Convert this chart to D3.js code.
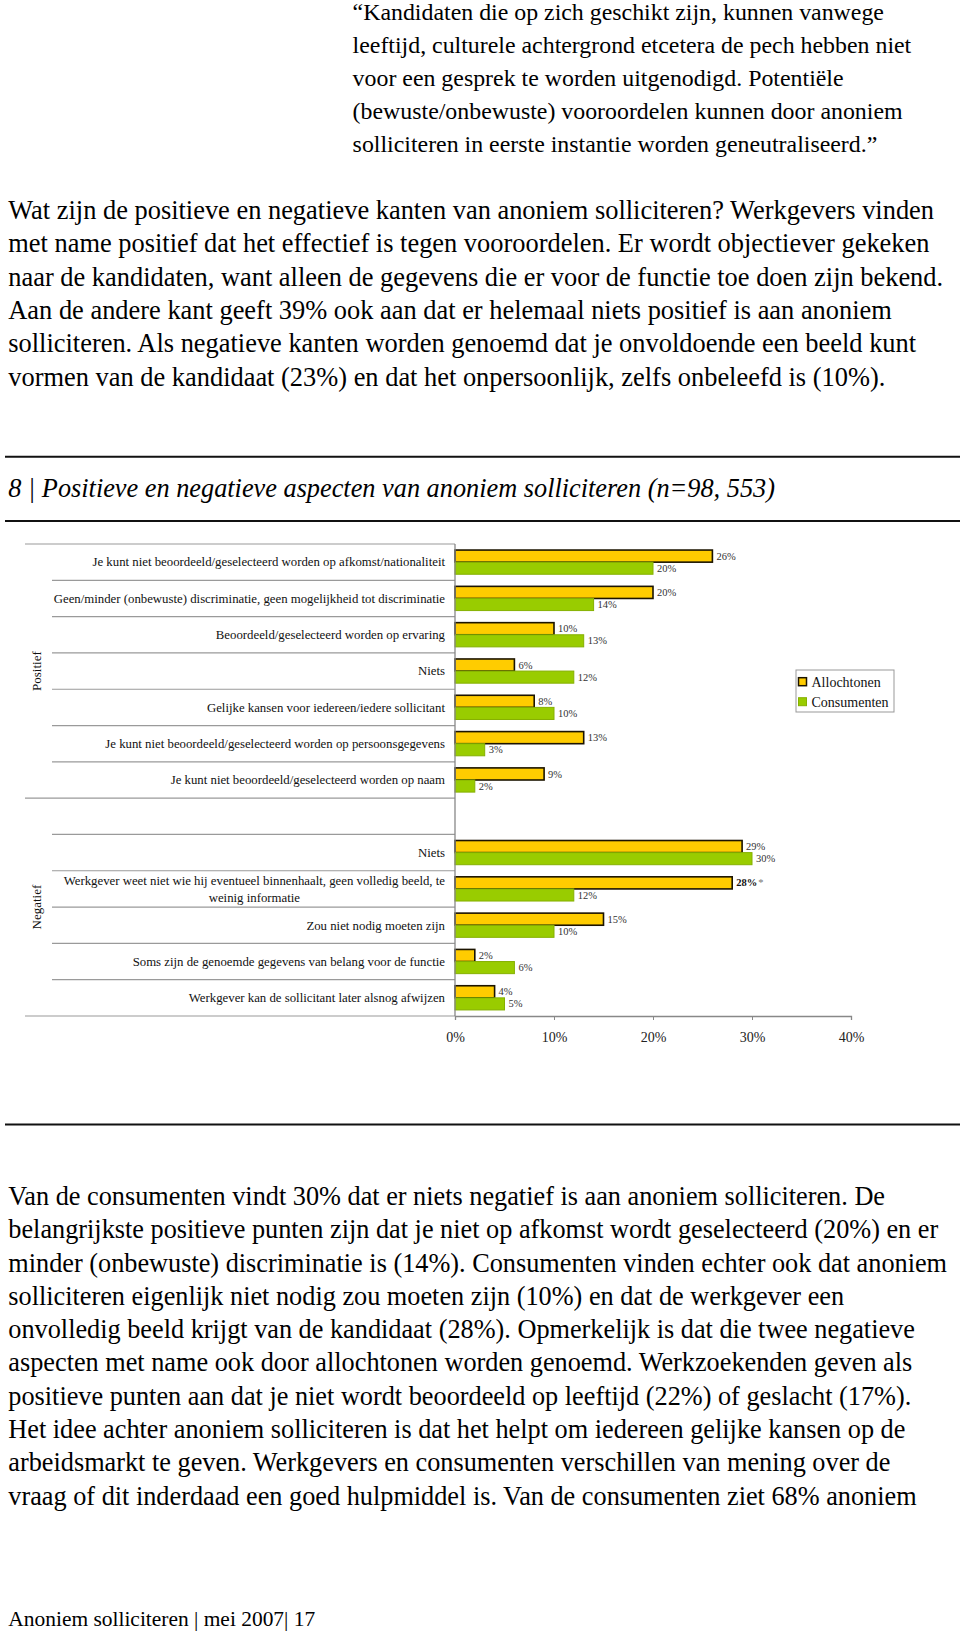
<!DOCTYPE html>
<html><head><meta charset="utf-8">
<script src="https://cdn.jsdelivr.net/npm/d3@7"></script>
<style>body{margin:0;background:#fff} svg{display:block}</style>
</head><body>
<svg id="c" width="960" height="1631"></svg>
<script>
const quoteLines = [
  "\u201CKandidaten die op zich geschikt zijn, kunnen vanwege",
  "leeftijd, culturele achtergrond etcetera de pech hebben niet",
  "voor een gesprek te worden uitgenodigd. Potenti\u00EBle",
  "(bewuste/onbewuste) vooroordelen kunnen door anoniem",
  "solliciteren in eerste instantie worden geneutraliseerd.\u201D"
];
const introLines = [
  "Wat zijn de positieve en negatieve kanten van anoniem solliciteren? Werkgevers vinden",
  "met name positief dat het effectief is tegen vooroordelen. Er wordt objectiever gekeken",
  "naar de kandidaten, want alleen de gegevens die er voor de functie toe doen zijn bekend.",
  "Aan de andere kant geeft 39% ook aan dat er helemaal niets positief is aan anoniem",
  "solliciteren. Als negatieve kanten worden genoemd dat je onvoldoende een beeld kunt",
  "vormen van de kandidaat (23%) en dat het onpersoonlijk, zelfs onbeleefd is (10%)."
];
const titleText = "8 | Positieve en negatieve aspecten van anoniem solliciteren (n=98, 553)";
const outroLines = [
  "Van de consumenten vindt 30% dat er niets negatief is aan anoniem solliciteren. De",
  "belangrijkste positieve punten zijn dat je niet op afkomst wordt geselecteerd (20%) en er",
  "minder (onbewuste) discriminatie is (14%). Consumenten vinden echter ook dat anoniem",
  "solliciteren eigenlijk niet nodig zou moeten zijn (10%) en dat de werkgever een",
  "onvolledig beeld krijgt van de kandidaat (28%). Opmerkelijk is dat die twee negatieve",
  "aspecten met name ook door allochtonen worden genoemd. Werkzoekenden geven als",
  "positieve punten aan dat je niet wordt beoordeeld op leeftijd (22%) of geslacht (17%).",
  "Het idee achter anoniem solliciteren is dat het helpt om iedereen gelijke kansen op de",
  "arbeidsmarkt te geven. Werkgevers en consumenten verschillen van mening over de",
  "vraag of dit inderdaad een goed hulpmiddel is. Van de consumenten ziet 68% anoniem"
];
const footerText = "Anoniem solliciteren | mei 2007| 17";

const groups = ["Positief", "Negatief"];
const categories = [
  "Je kunt niet beoordeeld/geselecteerd worden op afkomst/nationaliteit",
  "Geen/minder (onbewuste) discriminatie, geen mogelijkheid tot discriminatie",
  "Beoordeeld/geselecteerd worden op ervaring",
  "Niets",
  "Gelijke kansen voor iedereen/iedere sollicitant",
  "Je kunt niet beoordeeld/geselecteerd worden op persoonsgegevens",
  "Je kunt niet beoordeeld/geselecteerd worden op naam",
  "",
  "Niets",
  "Werkgever weet niet wie hij eventueel binnenhaalt, geen volledig beeld, te\nweinig informatie",
  "Zou niet nodig moeten zijn",
  "Soms zijn de genoemde gegevens van belang voor de functie",
  "Werkgever kan de sollicitant later alsnog afwijzen"
];
const categoryGroup = ["Positief","Positief","Positief","Positief","Positief","Positief","Positief",
  "Negatief","Negatief","Negatief","Negatief","Negatief","Negatief"];
const seriesNames = ["Allochtonen", "Consumenten"];
const allochtonen = [26, 20, 10, 6, 8, 13, 9, null, 29, 28, 15, 2, 4];
const consumenten = [20, 14, 13, 12, 10, 3, 2, null, 30, 12, 10, 6, 5];
const xTicks = [0, 10, 20, 30, 40];
const flagged = { series: "Allochtonen", index: 9, suffix: "*" };

const serif = '"Liberation Serif","Times New Roman",Times,serif';
const svg = d3.select("#c");
svg.append("rect").attr("width", 960).attr("height", 1631).attr("fill", "#fff");

function block(lines, x, y0, dy, target, refIdx, italic) {
  const g = svg.append("g").attr("font-family", serif).attr("fill", "#000");
  if (italic) g.attr("font-style", "italic");
  const t = g.selectAll("text").data(lines).join("text")
    .attr("x", x).attr("y", (d, i) => y0 + i * dy)
    .attr("font-size", 20).text(d => d);
  const w = t.nodes()[refIdx].getComputedTextLength();
  t.attr("font-size", 20 * target / w);
}

block(quoteLines, 352.6, 20, 33.1, 550, 3, false);
block(introLines, 8.3, 219, 33.3, 926, 0, false);
block([titleText], 8.3, 497, 0, 767, 0, true);
block(outroLines, 8.3, 1205, 33.28, 939, 2, false);
block([footerText], 8.3, 1626, 0, 307, 0, false);

// rules
[456.7, 521, 1124.4].forEach(yy => {
  svg.append("line").attr("x1", 5).attr("x2", 960).attr("y1", yy).attr("y2", yy)
    .attr("stroke", "#111").attr("stroke-width", 2);
});

// chart
const x = d3.scaleLinear().domain([0, 40]).range([455, 851]);
const y = d3.scaleBand().domain(d3.range(categories.length)).range([544, 1016]).padding(0);
const ySub = d3.scaleBand().domain(seriesNames).range([0, y.bandwidth()]).paddingInner(0).paddingOuter(0.5);
const chart = svg.append("g").attr("font-family", serif);

// category separator lines
const bounds = d3.range(categories.length + 1);
chart.selectAll("line.sep").data(bounds).join("line")
  .attr("class", "sep")
  .attr("x1", i => (i === 0 || i === categories.length || categoryGroup[i] !== categoryGroup[i - 1]) ? 25 : 52)
  .attr("x2", x(0))
  .attr("y1", i => i < categories.length ? y(i) : y.range()[1])
  .attr("y2", i => i < categories.length ? y(i) : y.range()[1])
  .attr("stroke", "#9a9a9a").attr("stroke-width", 1.2);

// category labels
categories.forEach((c, i) => {
  if (!c) return;
  const lines = c.split("\n");
  const cy = y(i) + y.bandwidth() / 2;
  if (lines.length === 1) {
    chart.append("text").attr("x", 445).attr("y", cy + 4.3)
      .attr("text-anchor", "end").attr("font-size", 12.8).attr("fill", "#111").text(c);
  } else {
    const t1 = chart.append("text").attr("x", 445).attr("y", cy - 8.6 + 4.3)
      .attr("text-anchor", "end").attr("font-size", 12.8).attr("fill", "#111").text(lines[0]);
    const w = t1.node().getComputedTextLength();
    chart.append("text").attr("x", 445 - w / 2).attr("y", cy + 8.6 + 4.3)
      .attr("text-anchor", "middle").attr("font-size", 12.8).attr("fill", "#111").text(lines[1]);
  }
});

// group labels
groups.forEach(gname => {
  const idx = categories.map((c, i) => i).filter(i => categoryGroup[i] === gname);
  const top = y(d3.min(idx)), bot = y(d3.max(idx)) + y.bandwidth();
  const cy = (top + bot) / 2;
  chart.append("text").attr("transform", `translate(41,${cy}) rotate(-90)`)
    .attr("text-anchor", "middle").attr("font-size", 13).attr("fill", "#111").text(gname);
});

// bars
const seriesData = { "Allochtonen": allochtonen, "Consumenten": consumenten };
const styles = {
  "Allochtonen": { fill: "#FFCC00", stroke: "#1c1400", sw: 1.6 },
  "Consumenten": { fill: "#99CC00", stroke: "#85b000", sw: 1 }
};
seriesNames.forEach(s => {
  const vals = seriesData[s];
  const rows = vals.map((v, i) => ({ v, i })).filter(d => d.v !== null);
  chart.selectAll(null).data(rows).join("rect")
    .attr("x", x(0))
    .attr("y", d => y(d.i) + ySub(s))
    .attr("width", d => x(d.v) - x(0))
    .attr("height", ySub.bandwidth())
    .attr("fill", styles[s].fill).attr("stroke", styles[s].stroke).attr("stroke-width", styles[s].sw);
  const lbl = chart.selectAll(null).data(rows).join("text")
    .attr("x", d => x(d.v) + 4)
    .attr("y", d => y(d.i) + ySub(s) + ySub.bandwidth() / 2 + 3.6)
    .attr("font-size", 10.5).attr("fill", "#333");
  lbl.each(function (d) {
    const t = d3.select(this);
    if (s === flagged.series && d.i === flagged.index) {
      t.append("tspan").attr("font-weight", "bold").attr("fill", "#111").text(d.v + "%");
      t.append("tspan").attr("dx", 1).attr("fill", "#777").text(flagged.suffix);
    } else {
      t.text(d.v + "%");
    }
  });
});

// axes
chart.append("line").attr("x1", x(0)).attr("x2", x(0)).attr("y1", y.range()[0]).attr("y2", y.range()[1])
  .attr("stroke", "#888").attr("stroke-width", 1.3);
const ax = chart.append("g").attr("transform", `translate(0,${y.range()[1]})`)
  .call(d3.axisBottom(x).tickValues(xTicks).tickFormat(d => d + "%").tickSize(4).tickPadding(12));
ax.select(".domain").attr("stroke", "#888").attr("stroke-width", 1.3);
ax.selectAll(".tick line").attr("stroke", "#888");
ax.selectAll(".tick text").attr("font-family", serif).attr("font-size", 14).attr("fill", "#222");

// legend
const lg = chart.append("g");
lg.append("rect").attr("x", 796).attr("y", 670).attr("width", 98).attr("height", 42)
  .attr("fill", "#fff").attr("stroke", "#999").attr("stroke-width", 1);
const legY = d3.scaleBand().domain(seriesNames).range([672, 712]);
seriesNames.forEach(s => {
  const cy = legY(s) + legY.bandwidth() / 2;
  lg.append("rect").attr("x", 798.5).attr("y", cy - 4.3).attr("width", 8).attr("height", 8)
    .attr("fill", styles[s].fill).attr("stroke", styles[s].stroke).attr("stroke-width", s === "Allochtonen" ? 1.5 : 1);
  lg.append("text").attr("x", 811.5).attr("y", cy + 4.8).attr("font-size", 14).attr("fill", "#111").text(s);
});
</script>
</body></html>
